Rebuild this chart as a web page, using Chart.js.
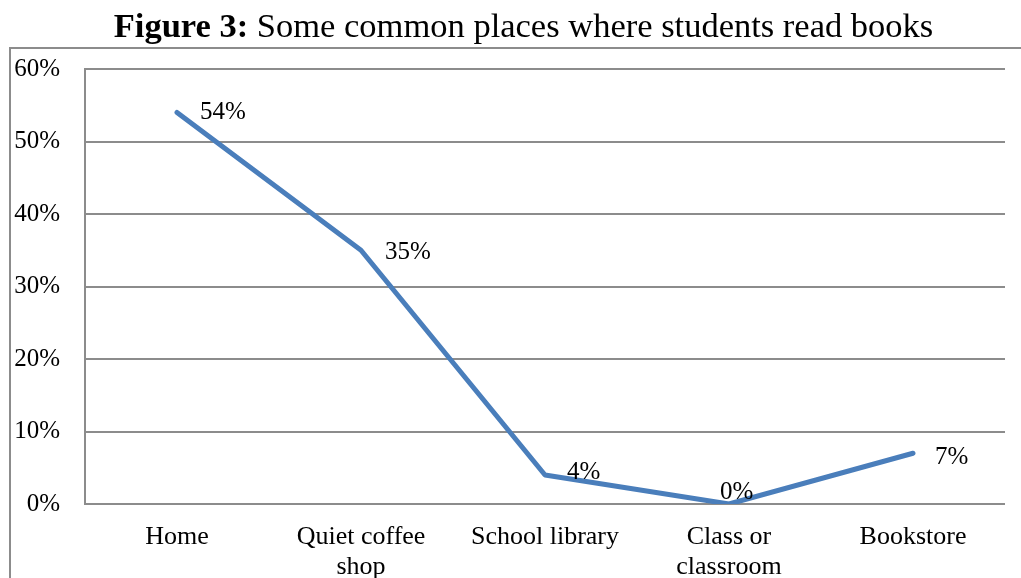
<!DOCTYPE html>
<html>
<head>
<meta charset="utf-8">
<script src="https://cdn.jsdelivr.net/npm/chart.js@4"></script>
<style>
  html, body { margin: 0; padding: 0; background: #fff; }
  #wrap { position: relative; width: 1021px; height: 578px; overflow: hidden; }
  #title { position: absolute; left: 0; width: 1047px; top: 5px; text-align: center;
           font-family: "Liberation Serif", serif; font-size: 34.5px; color: #000; white-space: nowrap; line-height: 40px; }
  canvas { position: absolute; left: 0; top: 0; }
</style>
</head>
<body>
<div id="wrap">
  <canvas id="c" width="1021" height="578"></canvas>
  <div id="title"><b>Figure 3:</b> Some common places where students read books</div>
</div>
<script>
const categories = ["Home", ["Quiet coffee", "shop"], "School library", ["Class or", "classroom"], "Bookstore"];
const values = [54, 35, 4, 0, 7];
const yTicks = [0, 10, 20, 30, 40, 50, 60];

const labelOffsets = [[23, 0], [24, 2], [22, -3], [-9, -12], [22, 4]];

const framePlugin = {
  id: 'frame',
  beforeDraw(chart) {
    const ctx = chart.ctx;
    ctx.save();
    ctx.strokeStyle = '#8c8c8c';
    ctx.lineWidth = 2;
    ctx.beginPath();
    ctx.moveTo(10, 578);
    ctx.lineTo(10, 48);
    ctx.lineTo(1021, 48);
    ctx.stroke();
    ctx.restore();
  }
};

const labelPlugin = {
  id: 'vlabels',
  afterDatasetsDraw(chart) {
    const ctx = chart.ctx;
    const meta = chart.getDatasetMeta(0);
    ctx.save();
    ctx.font = '25px "Liberation Serif", serif';
    ctx.fillStyle = '#000';
    ctx.textAlign = 'left';
    ctx.textBaseline = 'middle';
    meta.data.forEach((pt, i) => {
      const o = labelOffsets[i];
      ctx.fillText(values[i] + '%', pt.x + o[0], pt.y + o[1]);
    });
    ctx.restore();
  }
};

new Chart(document.getElementById('c'), {
  type: 'line',
  data: {
    labels: categories,
    datasets: [{
      data: values,
      borderColor: '#4A7EBB',
      borderWidth: 5,
      pointRadius: 0,
      pointHoverRadius: 0,
      tension: 0,
      borderCapStyle: 'round',
      borderJoinStyle: 'round',
      fill: false
    }]
  },
  options: {
    responsive: false,
    devicePixelRatio: 1,
    animation: false,
    events: [],
    layout: { padding: { top: 69, right: 16, left: 0, bottom: 0 } },
    plugins: { legend: { display: false }, title: { display: false }, tooltip: { enabled: false } },
    scales: {
      x: {
        offset: true,
        grid: { display: false, drawTicks: false },
        border: { display: false },
        ticks: {
          autoSkip: false, maxRotation: 0, minRotation: 0,
          color: '#000', padding: 18,
          font: { family: '"Liberation Serif", serif', size: 26, lineHeight: 1.17 }
        },
        afterFit(s) { s.height = 74; }
      },
      y: {
        min: 0, max: 60,
        afterBuildTicks(s) { s.ticks = yTicks.map(v => ({ value: v })); },
        grid: { color: '#8c8c8c', lineWidth: 2, drawTicks: false },
        border: { display: true, color: '#8c8c8c', width: 2 },
        ticks: {
          color: '#000', padding: 25,
          font: { family: '"Liberation Serif", serif', size: 25 },
          callback: v => v + '%'
        },
        afterFit(s) { s.width = 85; }
      }
    }
  },
  plugins: [framePlugin, labelPlugin]
});
</script>
</body>
</html>
